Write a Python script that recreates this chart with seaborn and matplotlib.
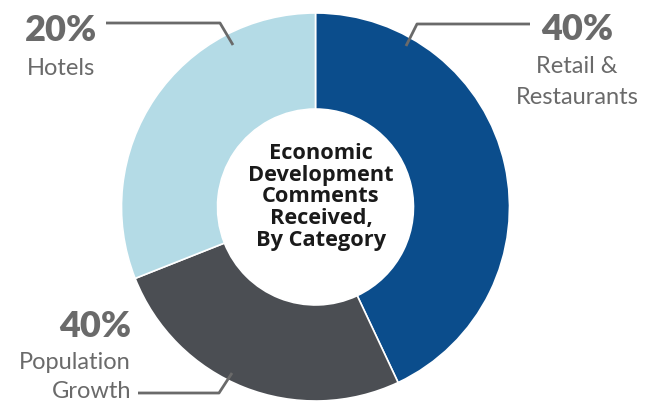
import matplotlib
matplotlib.use("Agg")
import matplotlib.pyplot as plt
import seaborn as sns

# ---- data ----
categories = ["Retail &\nRestaurants", "Population\nGrowth", "Hotels"]
slice_sizes = [43, 26, 31]          # visual share of the ring as drawn
pct_labels = ["40%", "40%", "20%"]  # percentages as printed
center_title = "Economic\nDevelopment\nComments\nReceived,\nBy Category"

colors = ["#0b4d8c", "#4b4e53", "#b4dbe6"]
text_gray = "#6a6a6a"

sns.set_theme(style="white")
plt.rcParams["font.family"] = ["Lato", "DejaVu Sans"]

W, H = 656, 402
fig = plt.figure(figsize=(W / 100, H / 100), dpi=100)
ax = fig.add_axes([0, 0, 1, 1])

def Y(py):
    return H - py

cx, cy, R = 315.5, Y(208), 194
ax.pie(slice_sizes, colors=colors, startangle=90, counterclock=False,
       radius=R, center=(cx, cy),
       wedgeprops=dict(width=R * 0.495, edgecolor="white", linewidth=1.2))
ax.set_xlim(0, W)
ax.set_ylim(0, H)
ax.set_aspect("equal")
ax.axis("off")

ax.text(321, Y(197), center_title, ha="center", va="center",
        fontsize=15.7, fontweight="bold", color="#1a1a1a", linespacing=1.05,
        family=["Open Sans", "DejaVu Sans"])

def label_lines(x, baselines, text, ha):
    for line, b in zip(text.split("\n"), baselines):
        ax.text(x, Y(b), line, ha=ha, va="baseline", fontsize=17,
                color=text_gray)

def pct(x, baseline, text, ha):
    ax.text(x, Y(baseline), text, ha=ha, va="baseline", fontsize=26,
            fontweight="heavy", color=text_gray)

lw = 2.0
# Retail & Restaurants
ax.plot([406, 417, 530], [Y(47), Y(25), Y(25)], color=text_gray, lw=lw,
        solid_capstyle="butt")
pct(577, 40, pct_labels[0], "center")
label_lines(577, [73, 104], categories[0], "center")

# Hotels
ax.plot([233, 220, 106], [Y(46), Y(24), Y(24)], color=text_gray, lw=lw,
        solid_capstyle="butt")
pct(61, 41, pct_labels[2], "center")
label_lines(61, [75], categories[2], "center")

# Population Growth
ax.plot([232, 219, 138], [Y(374), Y(394), Y(394)], color=text_gray, lw=lw,
        solid_capstyle="butt")
pct(131, 337, pct_labels[1], "right")
label_lines(131, [369, 398], categories[1], "right")

fig.savefig("out.png", dpi=100)
